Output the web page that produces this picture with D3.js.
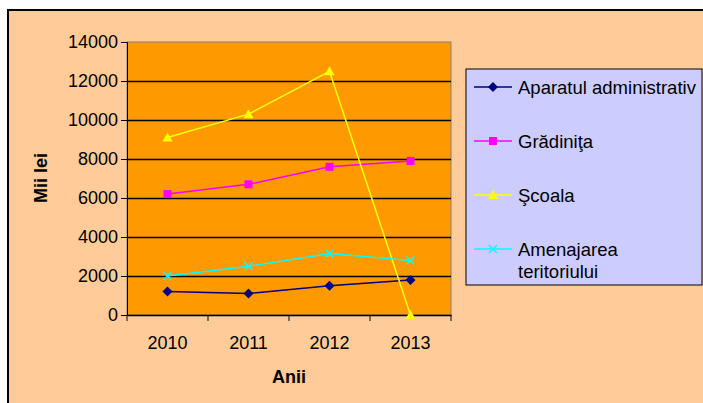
<!DOCTYPE html>
<meta charset="utf-8">
<head>
<style>
body { margin: 0; background: #fff; }
text { font-family: 'Liberation Sans', Arial, sans-serif; fill: #000; }
</style>
<script src="https://d3js.org/d3.v7.min.js"></script>
</head>
<body>
<svg id="chart" width="703" height="403"></svg>
<script>
var years = ['2010', '2011', '2012', '2013']
var yTicks = [0, 2000, 4000, 6000, 8000, 10000, 12000, 14000]
var seriesNames = ['Aparatul administrativ', 'Grădiniţa', 'Şcoala', 'Amenajarea teritoriului']
var aparatul = [1200, 1100, 1500, 1800]
var gradinita = [6200, 6700, 7600, 7900]
var scoala = [9100, 10300, 12500, 0]
var amenajarea = [2000, 2500, 3150, 2800]

var colors = ['#000080', '#FF00FF', '#FFFF00', '#00FFFF']
var shapes = ['diamond', 'square', 'triangle', 'x']
var series = [aparatul, gradinita, scoala, amenajarea].map(function (v, i) {
  return {name: seriesNames[i], values: v, color: colors[i], shape: shapes[i]}
})

var svg = d3.select('#chart')

// chart area background + border
svg.append('rect').attr('x', 8).attr('y', 10).attr('width', 720).attr('height', 420)
  .attr('fill', '#FFCC99')
svg.append('path').attr('d', 'M8,403V10H703').attr('fill', 'none')
  .attr('stroke', '#000').attr('stroke-width', 2)

var plot = {left: 127, right: 451, top: 42, bottom: 315}

var x = d3.scaleBand().domain(years).range([plot.left, plot.right])
var y = d3.scaleLinear().domain([0, 14000]).range([plot.bottom, plot.top])

svg.append('rect')
  .attr('x', plot.left).attr('y', plot.top)
  .attr('width', plot.right - plot.left).attr('height', plot.bottom - plot.top)
  .attr('fill', '#FF9900').attr('stroke', '#808080')

// gridlines
svg.append('g').selectAll('line').data(yTicks.slice(1, -1)).enter().append('line')
  .attr('x1', plot.left).attr('x2', plot.right)
  .attr('y1', function (d) { return Math.round(y(d)) + 0.5 })
  .attr('y2', function (d) { return Math.round(y(d)) + 0.5 })
  .attr('stroke', '#000').attr('stroke-width', 1.3)

// y axis
var yAxis = svg.append('g')
  .attr('transform', 'translate(' + plot.left + ',0)')
  .call(d3.axisLeft(y).tickValues(yTicks).tickSize(6).tickPadding(3).tickFormat(d3.format('d')))
yAxis.selectAll('path, line').attr('stroke', '#000')
yAxis.selectAll('text').attr('font-size', 18).attr('font-family', null).attr('fill', '#000')

// x axis
var xAxis = svg.append('g')
  .attr('transform', 'translate(0,' + plot.bottom + ')')
  .call(d3.axisBottom(x).tickSize(0).tickPadding(21))
xAxis.select('.domain').attr('stroke', '#000').attr('stroke-width', 1.5)
xAxis.selectAll('text').attr('font-size', 18).attr('font-family', null).attr('fill', '#000')
xAxis.selectAll('.tickmark').data(years.concat(['end'])).enter().append('line')
  .attr('x1', function (d, i) { return plot.left + i * x.bandwidth() })
  .attr('x2', function (d, i) { return plot.left + i * x.bandwidth() })
  .attr('y1', 0).attr('y2', 6).attr('stroke', '#000')

// axis titles
svg.append('text').attr('x', 289).attr('y', 383)
  .attr('text-anchor', 'middle').attr('font-size', 18).attr('font-weight', 'bold').text('Anii')
svg.append('text').attr('transform', 'translate(47,' + 178 + ') rotate(-90)')
  .attr('text-anchor', 'middle').attr('font-size', 18).attr('font-weight', 'bold').text('Mii lei')

function drawMarker (g, shape, color) {
  if (shape === 'diamond') {
    g.append('path').attr('d', 'M0,-5L5,0L0,5L-5,0Z').attr('fill', color)
  } else if (shape === 'square') {
    g.append('rect').attr('x', -4).attr('y', -4).attr('width', 8).attr('height', 8).attr('fill', color)
  } else if (shape === 'triangle') {
    g.append('path').attr('d', 'M0,-5L5,4L-5,4Z').attr('fill', color)
  } else {
    g.append('path').attr('d', 'M-4,-4L4,4M-4,4L4,-4').attr('stroke', color).attr('stroke-width', 1.5)
  }
}

var line = d3.line()
  .x(function (d, i) { return x(years[i]) + x.bandwidth() / 2 })
  .y(function (d) { return y(d) })

series.forEach(function (s) {
  svg.append('path').datum(s.values).attr('d', line)
    .attr('fill', 'none').attr('stroke', s.color).attr('stroke-width', 1.5)
  s.values.forEach(function (v, i) {
    var g = svg.append('g')
      .attr('transform', 'translate(' + (x(years[i]) + x.bandwidth() / 2) + ',' + y(v) + ')')
    drawMarker(g, s.shape, s.color)
  })
})

// legend
var legend = svg.append('g')
legend.append('rect').attr('x', 466).attr('y', 69).attr('width', 236).attr('height', 216)
  .attr('fill', '#CCCCFF').attr('stroke', '#000')
var rowY = [87, 141, 195, 249]
series.forEach(function (s, i) {
  var g = legend.append('g').attr('transform', 'translate(0,' + rowY[i] + ')')
  g.append('line').attr('x1', 474).attr('x2', 512).attr('y1', 0).attr('y2', 0)
    .attr('stroke', s.color).attr('stroke-width', 1.5)
  var m = g.append('g').attr('transform', 'translate(493,0)')
  drawMarker(m, s.shape, s.color)
  var words = s.name.split(' ')
  var t = g.append('text').attr('x', 518).attr('y', 7).attr('font-size', 18.5)
  if (i === 3) {
    t.append('tspan').attr('x', 518).text(words[0])
    t.append('tspan').attr('x', 518).attr('dy', 22).text(words[1])
  } else {
    t.text(s.name)
  }
})
</script>
</body>
